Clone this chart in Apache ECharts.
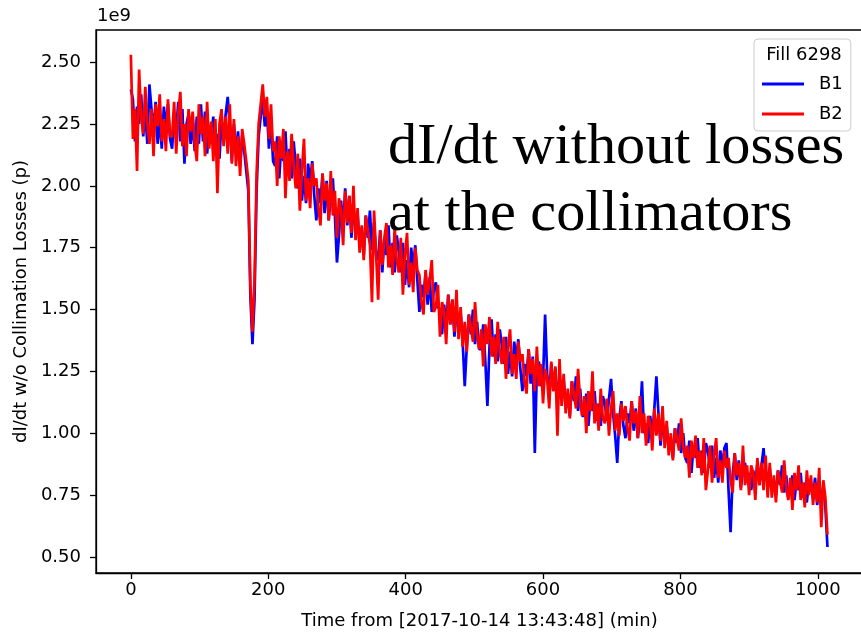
<!DOCTYPE html>
<html>
<head>
<meta charset="utf-8">
<script src="https://cdn.jsdelivr.net/npm/echarts@6/dist/echarts.min.js"></script>
<style>
  html, body { margin: 0; padding: 0; background: #ffffff; }
  #chart { width: 861px; height: 633px; }
</style>
</head>
<body>
<div id="chart"></div>
<script>
// Beam intensity decay rate, collimation losses removed (units of 1e9 p)
const FONT = "'DejaVu Sans', sans-serif";
const seriesNames = ['B1', 'B2'];
const legendTitle = 'Fill 6298';
const xTicks = [0, 200, 400, 600, 800, 1000];
const yTicks = [0.5, 0.75, 1.0, 1.25, 1.5, 1.75, 2.0, 2.25, 2.5];
const stepMinutes = 3;

// B1, one sample every 3 min from t = 0 (one row = 30 min)
const b1 = [
  2.39, 2.35, 2.18, 2.32, 2.25, 2.37, 2.20, 2.30, 2.17, 2.41,
  2.31, 2.22, 2.34, 2.17, 2.27, 2.15, 2.32, 2.24, 2.33, 2.19,
  2.15, 2.28, 2.22, 2.34, 2.18, 2.31, 2.09, 2.25, 2.29, 2.17,
  2.25, 2.14, 2.28, 2.17, 2.33, 2.18, 2.30, 2.13, 2.24, 2.19,
  2.28, 2.14, 2.21, 2.11, 2.27, 2.18, 2.29, 2.36, 2.24, 2.10,
  2.25, 2.13, 2.22, 2.08, 2.20, 2.14, 2.06, 1.98, 1.55, 1.36,
  1.54, 1.98, 2.20, 2.28, 2.35, 2.24, 2.31, 2.15, 2.27, 2.10,
  2.08, 2.20, 2.03, 2.17, 2.10, 2.22, 2.05, 2.15, 2.03, 2.18,
  2.08, 1.99, 2.11, 1.94, 2.04, 1.93, 2.09, 2.01, 2.10, 1.96,
  1.86, 1.99, 1.93, 2.05, 1.89, 2.02, 1.86, 1.96, 2.03, 1.88,
  1.69, 1.80, 1.94, 1.83, 1.99, 1.84, 1.96, 1.79, 1.90, 1.85,
  1.89, 1.75, 1.82, 1.72, 1.88, 1.79, 1.90, 1.74, 1.85, 1.72,
  1.70, 1.82, 1.65, 1.79, 1.72, 1.84, 1.67, 1.77, 1.65, 1.80,
  1.74, 1.65, 1.77, 1.60, 1.70, 1.59, 1.75, 1.67, 1.76, 1.62,
  1.49, 1.60, 1.55, 1.65, 1.52, 1.63, 1.49, 1.58, 1.61, 1.51,
  1.50, 1.40, 1.52, 1.43, 1.56, 1.44, 1.54, 1.39, 1.49, 1.44,
  1.49, 1.37, 1.19, 1.35, 1.48, 1.40, 1.50, 1.36, 1.45, 1.34,
  1.34, 1.44, 1.29, 1.11, 1.35, 1.46, 1.31, 1.40, 1.29, 1.42,
  1.36, 1.28, 1.39, 1.24, 1.33, 1.23, 1.37, 1.30, 1.38, 1.26,
  1.17, 1.28, 1.23, 1.34, 1.20, 1.31, 0.92, 1.26, 1.29, 1.19,
  1.22, 1.48, 1.24, 1.16, 1.28, 1.17, 1.26, 1.13, 1.22, 1.18,
  1.22, 1.10, 1.16, 1.07, 1.21, 1.13, 1.23, 1.09, 1.18, 1.07,
  1.07, 1.16, 1.03, 1.14, 1.09, 1.17, 1.05, 1.12, 1.03, 1.15,
  1.12, 1.05, 1.14, 1.22, 1.08, 0.99, 0.88, 1.06, 1.13, 1.03,
  0.98, 1.08, 1.04, 1.13, 1.01, 1.10, 0.98, 1.06, 1.21, 1.00,
  1.04, 0.96, 1.07, 0.98, 1.10, 1.23, 1.08, 0.95, 1.04, 1.00,
  1.03, 0.93, 0.98, 0.90, 1.02, 0.96, 1.04, 0.92, 1.00, 0.90,
  0.88, 0.97, 0.84, 0.95, 0.90, 0.98, 0.86, 0.93, 0.84, 0.96,
  0.93, 0.86, 0.95, 0.82, 0.90, 0.80, 0.93, 0.87, 0.94, 0.96,
  0.77, 0.60, 0.83, 0.92, 0.81, 0.89, 0.78, 0.85, 0.88, 0.80,
  0.84, 0.77, 0.85, 0.79, 0.88, 0.79, 0.87, 0.94, 0.83, 0.80,
  0.86, 0.77, 0.81, 0.75, 0.85, 0.79, 0.87, 0.76, 0.83, 0.74,
  0.76, 0.83, 0.73, 0.81, 0.77, 0.84, 0.74, 0.80, 0.72, 0.81,
  0.80, 0.74, 0.82, 0.71, 0.78, 0.73, 0.79, 0.70, 0.54
];

// B2, same time base
const b2 = [
  2.53, 2.19, 2.31, 2.06, 2.47, 2.28, 2.21, 2.40, 2.25, 2.17,
  2.31, 2.12, 2.33, 2.24, 2.37, 2.18, 2.27, 2.14, 2.35, 2.20,
  2.20, 2.34, 2.13, 2.29, 2.38, 2.16, 2.25, 2.12, 2.31, 2.22,
  2.30, 2.17, 2.10, 2.33, 2.21, 2.28, 2.12, 2.34, 2.15, 2.26,
  2.10, 2.27, 1.97, 2.25, 2.31, 2.16, 2.28, 2.13, 2.33, 2.09,
  2.27, 2.08, 2.20, 2.04, 2.23, 2.17, 2.10, 2.02, 1.60, 1.41,
  1.62, 2.05, 2.25, 2.33, 2.41, 2.28, 2.36, 2.19, 2.33, 2.14,
  2.18, 2.00, 2.20, 2.11, 2.23, 1.95, 2.14, 2.02, 2.21, 2.08,
  1.99, 2.13, 1.90, 2.06, 2.19, 1.94, 2.03, 1.91, 2.09, 2.00,
  2.03, 1.91, 1.84, 2.05, 1.94, 2.01, 1.86, 2.06, 1.88, 1.98,
  1.79, 1.95, 1.90, 1.76, 1.98, 1.85, 1.96, 1.81, 2.00, 1.78,
  1.91, 1.73, 1.84, 1.70, 1.88, 1.82, 1.76, 1.53, 1.90, 1.72,
  1.54, 1.82, 1.68, 1.79, 1.85, 1.67, 1.76, 1.64, 1.83, 1.70,
  1.65, 1.79, 1.56, 1.72, 1.81, 1.60, 1.69, 1.57, 1.75, 1.66,
  1.64, 1.53, 1.48, 1.66, 1.56, 1.62, 1.70, 1.49, 1.51, 1.60,
  1.39, 1.53, 1.49, 1.36, 1.56, 1.44, 1.54, 1.41, 1.58, 1.38,
  1.51, 1.35, 1.45, 1.33, 1.48, 1.43, 1.37, 1.53, 1.40, 1.34,
  1.42, 1.27, 1.44, 1.36, 1.47, 1.31, 1.39, 1.28, 1.45, 1.33,
  1.28, 1.39, 1.22, 1.35, 1.42, 1.24, 1.32, 1.22, 1.37, 1.29,
  1.32, 1.21, 1.16, 1.34, 1.24, 1.30, 1.17, 1.35, 1.19, 1.28,
  1.12, 1.26, 1.22, 1.10, 1.29, 1.17, 1.27, 0.99, 1.30, 1.11,
  1.24, 1.08, 1.18, 1.06, 1.21, 1.16, 1.10, 1.26, 1.13, 1.07,
  1.15, 1.00, 1.17, 1.09, 1.25, 1.04, 1.12, 1.01, 1.18, 1.06,
  1.04, 1.14, 0.99, 1.10, 1.17, 1.01, 1.08, 0.99, 1.12, 1.05,
  1.11, 1.02, 0.97, 1.13, 1.04, 1.09, 0.98, 1.15, 1.00, 1.08,
  0.95, 1.07, 1.04, 0.93, 1.10, 0.99, 1.08, 0.97, 1.11, 0.94,
  1.05, 0.91, 1.00, 0.89, 1.02, 0.98, 0.93, 1.06, 0.95, 0.90,
  0.95, 0.82, 0.97, 0.90, 0.99, 0.86, 0.93, 0.83, 0.98, 0.77,
  0.85, 0.95, 0.80, 0.91, 0.98, 0.82, 0.89, 0.80, 0.93, 0.86,
  0.90, 0.81, 0.76, 0.92, 0.83, 0.88, 0.77, 0.95, 0.79, 0.87,
  0.75, 0.87, 0.84, 0.73, 0.90, 0.79, 0.88, 0.77, 0.91, 0.74,
  0.88, 0.74, 0.83, 0.72, 0.85, 0.81, 0.76, 0.89, 0.78, 0.73,
  0.82, 0.69, 0.84, 0.77, 0.87, 0.73, 0.80, 0.70, 0.85, 0.75,
  0.83, 0.71, 0.80, 0.72, 0.86, 0.62, 0.81, 0.74, 0.59
];

const minutes = b1.map((_, i) => i * stepMinutes);
const toPairs = (vals) => vals.map((v, i) => [minutes[i], v]);

const chart = echarts.init(document.getElementById('chart'), null, { renderer: 'canvas' });

const axisLineStyle = { show: true, onZero: false, lineStyle: { color: '#000', width: 1.3 } };

chart.setOption({
  animation: false,
  backgroundColor: '#ffffff',
  grid: {
    left: 96, right: -2, top: 30, bottom: 60,
    containLabel: false, outerBoundsMode: 'none',
    show: true, borderColor: '#000', borderWidth: 1.3, backgroundColor: 'transparent'
  },
  xAxis: {
    type: 'value',
    min: -50.75, max: 1065.75,
    name: 'Time from [2017-10-14 13:43:48] (min)',
    nameLocation: 'middle', nameGap: 39,
    nameTextStyle: { fontFamily: FONT, fontSize: 18, color: '#000' },
    axisLine: axisLineStyle,
    splitLine: { show: false },
    axisTick: { show: true, inside: false, length: 6, customValues: xTicks, lineStyle: { color: '#000', width: 1.3 } },
    axisLabel: { customValues: xTicks, fontFamily: FONT, fontSize: 18, color: '#000', margin: 8, formatter: (v) => String(v) }
  },
  yAxis: {
    type: 'value',
    min: 0.435, max: 2.63,
    name: 'dI/dt w/o Collimation Losses (p)',
    nameLocation: 'middle', nameGap: 66, nameRotate: 90,
    nameTextStyle: { fontFamily: FONT, fontSize: 18, color: '#000' },
    axisLine: axisLineStyle,
    splitLine: { show: false },
    axisTick: { show: true, inside: false, length: 6, customValues: yTicks, lineStyle: { color: '#000', width: 1.3 } },
    axisLabel: {
      customValues: yTicks, fontFamily: FONT, fontSize: 18, color: '#000', margin: 15,
      formatter: (v) => v.toFixed(2)
    }
  },
  legend: {
    data: [{ name: seriesNames[0], icon: 'rect' }, { name: seriesNames[1], icon: 'rect' }],
    orient: 'vertical',
    left: 754, top: 39,
    padding: [36, 8, 8, 8],
    itemWidth: 42, itemHeight: 3, itemGap: 12,
    textStyle: { fontFamily: FONT, fontSize: 18, color: '#000', padding: [0, 0, 0, 10] },
    borderColor: '#cccccc', borderWidth: 1, borderRadius: 4,
    backgroundColor: 'rgba(255,255,255,0.8)',
    selectedMode: false
  },
  graphic: [
    {
      type: 'text', left: 97, top: 7, z: 10,
      style: { text: '1e9', fontFamily: 'DejaVu Sans', fontSize: 18, fill: '#000' }
    },
    {
      type: 'text', x: 804, y: 55, z: 10,
      style: { text: legendTitle, fontFamily: 'DejaVu Sans', fontSize: 18, fill: '#000', align: 'center', verticalAlign: 'middle' }
    },
    {
      type: 'text', x: 388, y: 148, scaleX: 1.04, z: 10,
      style: { text: 'dI/dt without losses', fontFamily: 'Liberation Serif', fontSize: 56, fill: '#000', align: 'left', verticalAlign: 'middle' }
    },
    {
      type: 'text', x: 388, y: 215, scaleX: 1.04, z: 10,
      style: { text: 'at the collimators', fontFamily: 'Liberation Serif', fontSize: 56, fill: '#000', align: 'left', verticalAlign: 'middle' }
    }
  ],
  series: [
    {
      name: seriesNames[0], type: 'line', data: toPairs(b1),
      color: '#0000ff', showSymbol: false, symbol: 'none',
      lineStyle: { width: 2.7, color: '#0000ff' }, z: 2
    },
    {
      name: seriesNames[1], type: 'line', data: toPairs(b2),
      color: '#ff0000', showSymbol: false, symbol: 'none',
      lineStyle: { width: 2.7, color: '#ff0000' }, z: 3
    }
  ]
});
</script>
</body>
</html>
